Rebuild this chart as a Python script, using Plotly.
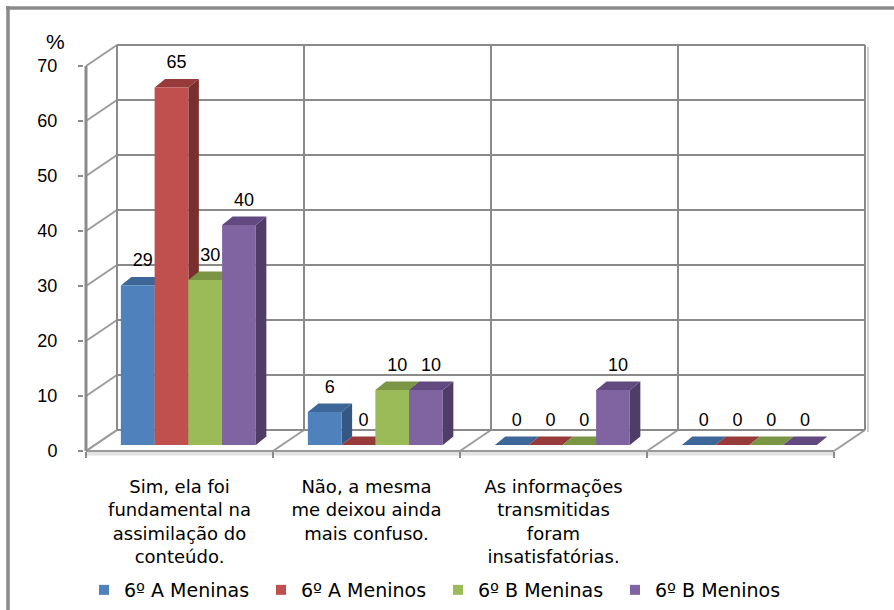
import plotly.graph_objects as go

# ---------------- data ----------------
categories = [
    "Sim, ela foi<br>fundamental na<br>assimilação do<br>conteúdo.",
    "Não, a mesma<br>me deixou ainda<br>mais confuso.",
    "As informações<br>transmitidas<br>foram<br>insatisfatórias.",
    "",
]
series_names = ["6º A Meninas", "6º A Meninos", "6º B Meninas", "6º B Meninos"]
a_meninas = [29, 6, 0, 0]
a_meninos = [65, 0, 0, 0]
b_meninas = [30, 10, 0, 0]
b_meninos = [40, 10, 10, 0]
y_ticks = [0, 10, 20, 30, 40, 50, 60, 70]
y_unit_label = "%"

series_values = [a_meninas, a_meninos, b_meninas, b_meninos]

# ---------------- style ----------------
front_colors = ["#4F81BD", "#C0504D", "#9BBB59", "#8064A2"]
top_colors = ["#3D6798", "#963B39", "#7A9544", "#62497F"]
side_colors = ["#345883", "#792F2D", "#637A36", "#4F3D68"]
GRID = "#8A8A8A"
WALL_DIAG = "#9C9C9C"

W, H = 894, 610
PL, PR, PT, PB = 84, 890, 20, 600          # plot area in pixels
X0PX, CATPX, Y0PX, UPX = 86, 187, 451, 5.5  # front-left corner, category width, zero line, px per unit


def px_to_x(px):
    return (px - X0PX) / CATPX


def py_to_y(py):
    return (Y0PX - py) / UPX


def paper_x(px):
    return (px - PL) / (PR - PL)


def paper_y(py):
    return (PB - py) / (PB - PT)


DEPTH_DX = 31 / CATPX
DEPTH_DY = 21 / UPX
n_cat = len(categories)
y_max = max(y_ticks)


def proj(x, v, d):
    return x + d * DEPTH_DX, v + d * DEPTH_DY


fig = go.Figure()


def add_lines(segments, color, width):
    xs, ys = [], []
    for (a, b) in segments:
        xs += [a[0], b[0], None]
        ys += [a[1], b[1], None]
    fig.add_trace(go.Scatter(x=xs, y=ys, mode="lines", line=dict(color=color, width=width),
                             hoverinfo="skip", showlegend=False))


# back wall shadow on the right edge
add_lines([(proj(n_cat + 3 / CATPX, -2 / UPX, 1), proj(n_cat + 3 / CATPX, y_max - 0.3, 1))], "#CFCFCF", 2)
# floor thickness band
fig.add_trace(go.Scatter(
    x=[0, n_cat, n_cat, 0], y=[0, 0, -4.5 / UPX, -4.5 / UPX], fill="toself", mode="none",
    fillcolor="#E2E2E2", hoverinfo="skip", showlegend=False))

# left wall diagonals
add_lines([(proj(0, v, 0), proj(0, v, 1)) for v in y_ticks], WALL_DIAG, 2)
# floor diagonals
add_lines([(proj(i, 0, 0), proj(i, 0, 1)) for i in range(n_cat + 1)], WALL_DIAG, 2)
# back wall horizontal grid
add_lines([(proj(0, v, 1), proj(n_cat, v, 1)) for v in y_ticks], GRID, 2)
# back wall vertical lines
add_lines([(proj(i, 0, 1), proj(i, y_max, 1)) for i in range(n_cat + 1)], GRID, 2)
# floor front edge
add_lines([(proj(0, 0, 0), proj(n_cat, 0, 0))], "#9A9A9A", 2)
# front value axis
add_lines([(proj(0, 0, 0), proj(0, y_max, 0))], GRID, 3)

# ---------------- 3D bars ----------------
BAR_FRONT_D = 6 / 21
BAR_W = 33.75 / CATPX
GROUP_OFF = (1 - len(series_values) * BAR_W) / 2
BAR_SX = 10.5 / CATPX
BAR_SY = 8.5 / UPX

label_x, label_y, label_t = [], [], []
for s, vals in enumerate(series_values):
    fx, fy, tx, ty, sx, sy = [], [], [], [], [], []
    for i, v in enumerate(vals):
        x0 = i + GROUP_OFF + s * BAR_W + BAR_FRONT_D * DEPTH_DX
        x1 = x0 + BAR_W
        yb = BAR_FRONT_D * DEPTH_DY
        yt = yb + v
        if v > 0:
            fx += [x0, x1, x1, x0, x0, None]
            fy += [yb, yb, yt, yt, yb, None]
            sx += [x1, x1 + BAR_SX, x1 + BAR_SX, x1, x1, None]
            sy += [yb, yb + BAR_SY, yt + BAR_SY, yt, yb, None]
        tx += [x0, x1, x1 + BAR_SX, x0 + BAR_SX, x0, None]
        ty += [yt, yt, yt + BAR_SY, yt + BAR_SY, yt, None]
        label_x.append((x0 + x1) / 2 + 5 / CATPX)
        label_y.append(v + 30 / UPX)
        label_t.append(str(v))
    if sx:
        fig.add_trace(go.Scatter(x=sx, y=sy, fill="toself", mode="none", fillcolor=side_colors[s],
                                 hoverinfo="skip", showlegend=False))
    fig.add_trace(go.Scatter(x=tx, y=ty, fill="toself", mode="none", fillcolor=top_colors[s],
                             hoverinfo="skip", showlegend=False))
    if fx:
        fig.add_trace(go.Scatter(x=fx, y=fy, fill="toself", mode="none", fillcolor=front_colors[s],
                                 hoverinfo="skip", showlegend=False))

# value labels
fig.add_trace(go.Scatter(x=label_x, y=label_y, text=label_t, mode="text", textposition="middle center",
                         textfont=dict(family="Liberation Sans, Arial", size=18, color="black"),
                         cliponaxis=False, hoverinfo="skip", showlegend=False))

# legend entries
for s, name in enumerate(series_names):
    fig.add_trace(go.Scatter(x=[None], y=[None], mode="markers", name=name,
                             marker=dict(symbol="square", size=10, color=front_colors[s])))

# outer frame (top and left edges visible)
fig.add_shape(type="line", xref="paper", yref="paper", x0=paper_x(6), x1=paper_x(894),
              y0=paper_y(8), y1=paper_y(8), line=dict(color=GRID, width=3.5))
fig.add_shape(type="line", xref="paper", yref="paper", x0=paper_x(8), x1=paper_x(8),
              y0=paper_y(6), y1=paper_y(612), line=dict(color=GRID, width=3.5))

fig.add_annotation(x=paper_x(55), y=paper_y(42), xref="paper", yref="paper", text=y_unit_label,
                   xanchor="center", yanchor="middle", showarrow=False,
                   font=dict(family="Liberation Sans, Arial", size=21, color="black"))

fig.update_layout(
    width=W, height=H,
    margin=dict(l=PL, r=W - PR, t=PT, b=H - PB, autoexpand=False),
    paper_bgcolor="white", plot_bgcolor="white",
    showlegend=True,
    legend=dict(orientation="h", x=0, y=paper_y(590), xanchor="left", yanchor="middle",
                entrywidth=132, entrywidthmode="pixels", itemwidth=30,
                font=dict(family="DejaVu Sans", size=19, color="black"), bgcolor="rgba(0,0,0,0)"),
    xaxis=dict(range=[px_to_x(PL), px_to_x(PR)], anchor="free", position=paper_y(Y0PX),
               tickmode="array", tickvals=[i + 0.5 for i in range(n_cat)], ticktext=categories,
               ticks="", tickangle=0, showgrid=False, zeroline=False, showline=False,
               ticklabelstandoff=23,
               tickfont=dict(family="DejaVu Sans", size=18, color="black"),
               minor=dict(tickmode="array", tickvals=list(range(n_cat + 1)), ticks="outside",
                          ticklen=6, tickwidth=2, tickcolor=GRID, showgrid=False)),
    yaxis=dict(range=[py_to_y(PB), py_to_y(PT)], tickmode="array", tickvals=y_ticks,
               ticks="outside", ticklen=5, tickwidth=2, tickcolor=GRID,
               showgrid=False, zeroline=False, showline=False, ticklabelstandoff=17,
               tickfont=dict(family="Liberation Sans, Arial", size=18, color="black")),
)

fig.write_html("out.html", config={"displayModeBar": False},
               post_script="document.body.style.margin='0';document.body.style.overflow='hidden';")
